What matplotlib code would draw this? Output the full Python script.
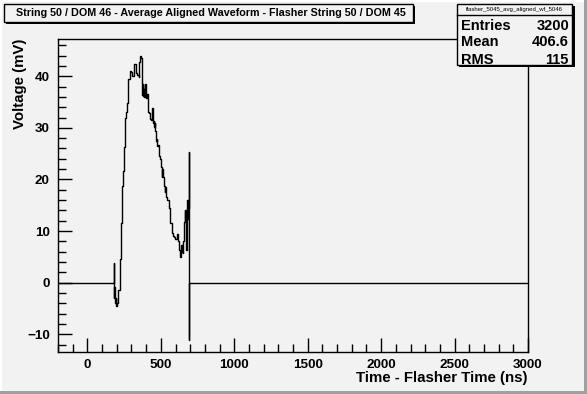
import matplotlib
matplotlib.use("Agg")
import matplotlib.pyplot as plt
from matplotlib.patches import Rectangle
from matplotlib.ticker import MultipleLocator

# averaged waveform, step levels (left edge in ns, level in mV)
times = [-200, 178.7, 180.5, 183, 185, 187.8, 194, 197, 204, 210.5, 221.9, 230.9,
         237.7, 244.6, 246.8, 255.9, 262.7, 269.6, 278.6, 287.7, 299.0, 303, 308.1,
         314.9, 328.5, 333, 337.7, 349.0, 353.5, 360.4, 364, 367.2, 371, 374.0, 377,
         380, 383.1, 386, 392.2, 396, 401.2, 405, 410.3, 414, 419.4, 425, 433.0, 437,
         444.3, 448, 451.2, 455, 460.2, 463, 467.1, 471.6, 476, 480.7, 486, 489.8,
         496.6, 500, 505.7, 509, 512, 519.3, 523, 526.1, 530, 534, 539.7, 553.3,
         562.4, 576.0, 582, 589.7, 596, 603.3, 610.1, 614, 619.2, 622, 626.0, 631,
         635.1, 640, 644.2, 648, 653.3, 656, 660.1, 664, 666.9, 670, 673.7, 676,
         678.3, 682.8, 686, 689, 690.5, 692, 3000]
volts = [0, 3.8, -2.9, -0.8, -3.3, -3.9, -3.0, -4.4, -4.0, -1.3, 4.7, 11.6,
         18.7, 21.7, 26.3, 31.9, 33.1, 34.9, 39.4, 41.1, 40.8, 40.1, 40.0,
         42.4, 42.2, 40.6, 40.3, 39.8, 42.8, 44.0, 43.5, 43.5, 39.0, 36.4, 38.5,
         36.2, 37.5, 36.0, 38.5, 36.0, 35.8, 36.5, 34.6, 33.0, 32.9, 31.7, 31.5, 33.9,
         33.9, 31.0, 31.3, 30.2, 31.0, 29.4, 27.5, 27.8, 26.5, 26.7, 24.9, 24.5,
         24.0, 22.4, 20.5, 22.0, 20.4, 20.0, 18.8, 17.5, 18.5, 16.6, 16.0, 14.4,
         11.5, 9.6, 9.0, 8.8, 8.4, 8.4, 9.5, 8.2, 8.0, 6.5, 6.3, 5.0,
         5.3, 7.3, 6.0, 5.7, 8.0, 9.2, 11.8, 14.0, 12.0, 14.0, 6.3, 15.0,
         16.0, 12.4, 14.5, 25.3, -11.0, 0, 0]

title = "String 50 / DOM 46 - Average Aligned Waveform - Flasher String 50 / DOM 45"
hist_name = "flasher_5045_avg_aligned_wf_5046"
stat_names = ["Entries", "Mean", "RMS"]
stat_values = ["3200", "406.6", "115"]

W, H = 587, 394
bg = "#f2f2f2"
plt.rcParams["font.family"] = ["Liberation Sans", "DejaVu Sans"]
plt.rcParams["font.weight"] = "bold"

fig = plt.figure(figsize=(W / 100, H / 100), dpi=100, facecolor=bg)

def px(x, y, w, h):
    # pixel box (top-left origin) -> figure fraction
    return (x / W, 1 - (y + h) / H), w / W, h / H

def box(x, y, w, h, fc, ec="black", lw=1.0, z=5):
    xy, fw, fh = px(x, y, w, h)
    r = Rectangle(xy, fw, fh, transform=fig.transFigure, facecolor=fc,
                  edgecolor=ec, linewidth=lw, zorder=z)
    fig.add_artist(r)

# canvas bevel
box(0, 0, W, 2, "white", ec="none")
box(0, 0, 2, H, "white", ec="none")
box(W - 3, 0, 3, H, "#a0a0a0", ec="none")
box(0, H - 3, W, 3, "#a0a0a0", ec="none")

ax = fig.add_axes([58 / W, 1 - 352 / H, 470 / W, 313 / H])
ax.set_facecolor(bg)
ax.plot(times, volts, drawstyle="steps-post", color="black", linewidth=1.0)
ax.set_xlim(-200, 3000)
ax.set_ylim(-13.4, 47.2)

ax.xaxis.set_major_locator(MultipleLocator(500))
ax.xaxis.set_minor_locator(MultipleLocator(100))
ax.yaxis.set_major_locator(MultipleLocator(10))
ax.yaxis.set_minor_locator(MultipleLocator(2))
ax.tick_params(which="both", direction="in", top=False, right=False,
               labelsize=9.7, width=1.0)
ax.tick_params(which="major", length=10)
ax.tick_params(which="minor", length=6)
ax.tick_params(axis="x", pad=5)
ax.tick_params(axis="y", pad=6)
for lbl in ax.get_xticklabels() + ax.get_yticklabels():
    lbl.set_fontweight("bold")
for s in ax.spines.values():
    s.set_linewidth(1.0)

fig.text(528 / W, 1 - 378 / H, "Time - Flasher Time (ns)", ha="right", va="center",
         fontsize=10.8, fontweight="bold")
fig.text(20 / W, 1 - 39 / H, "Voltage (mV)", ha="center", va="top", rotation=90,
         fontsize=10.8, fontweight="bold")

# title box with shadow
box(6, 6, 409, 18, "black", ec="none", z=6)
box(4, 4, 409, 18, bg, lw=1.0, z=7)
fig.text(211 / W, 1 - 13 / H, title, ha="center", va="center", fontsize=7.75,
         fontweight="bold", zorder=8)

# stats box with shadow
box(459, 6, 116, 61, "black", ec="none", z=6)
box(457, 4, 115, 61, bg, lw=1.0, z=7)
fig.add_artist(plt.Line2D([457 / W, 572 / W], [1 - 15 / H, 1 - 15 / H],
                          transform=fig.transFigure, color="black", lw=1.0, zorder=8))
fig.text(514 / W, 1 - 9.5 / H, hist_name, ha="center", va="center", fontsize=4.3,
         fontweight="normal", zorder=8)
for i, (n, v) in enumerate(zip(stat_names, stat_values)):
    yy = 1 - (25.5 + i * 17) / H
    fig.text(461 / W, yy, n, ha="left", va="center", fontsize=10.5,
             fontweight="bold", zorder=8)
    fig.text(569 / W, yy, v, ha="right", va="center", fontsize=10.5,
             fontweight="bold", zorder=8)

fig.savefig("out.png", dpi=100, facecolor=bg)
